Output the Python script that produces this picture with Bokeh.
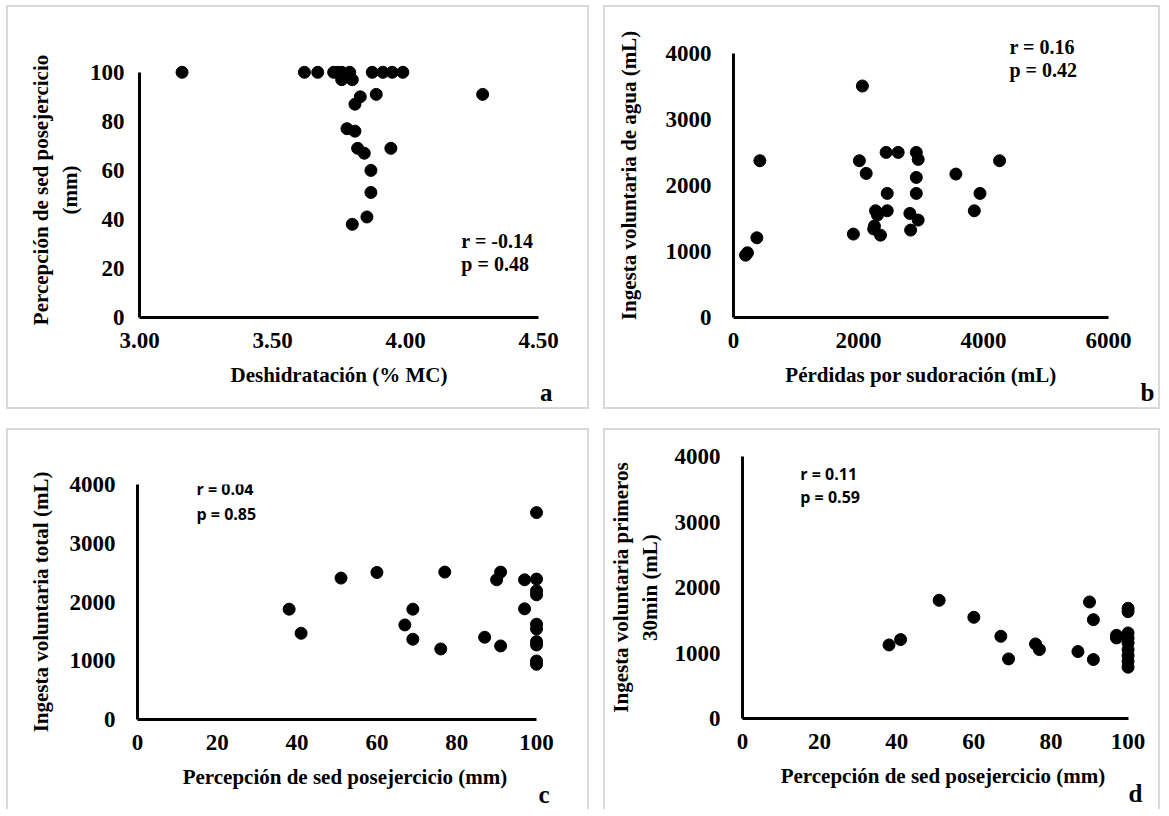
from bokeh.plotting import figure
from bokeh.models import Range1d, Label, FixedTicker, NumeralTickFormatter, Title
from bokeh.layouts import row, column
from bokeh.embed import file_html
from bokeh.resources import INLINE

# ---------------- data ----------------
# a: Deshidratación (% MC) vs Percepción de sed posejercicio (mm)
a_dehyd = [3.16, 3.62, 3.67, 3.73, 3.745, 3.76, 3.79, 3.875, 3.915, 3.95, 3.99,
           3.76, 3.80, 3.89, 4.29, 3.83, 3.81, 3.78, 3.81, 3.82, 3.845, 3.945,
           3.87, 3.87, 3.855, 3.80]
a_thirst = [100, 100, 100, 100, 100, 100, 100, 100, 100, 100, 100,
            97, 97, 91, 91, 90, 87, 77, 76, 69, 67, 69,
            60, 51, 41, 38]
# b: Pérdidas por sudoración (mL) vs Ingesta voluntaria de agua (mL)
b_sweat = [193, 223, 374, 422, 1918, 2014, 2062, 2123, 2255, 2243, 2273, 2303, 2352,
           2442, 2460, 2460, 2635, 2822, 2834, 2925, 2925, 2925, 2955, 2955,
           3558, 3853, 3944, 4257]
b_intake = [944, 980, 1207, 2374, 1263, 2374, 3505, 2182, 1384, 1340, 1616, 1551, 1247,
            2500, 1879, 1616, 2500, 1576, 1323, 2500, 2121, 1879, 2394, 1475,
            2172, 1616, 1879, 2374]
# c: Percepción de sed posejercicio (mm) vs Ingesta voluntaria total (mL)
c_thirst = [38, 41, 51, 60, 67, 69, 69, 76, 77, 87, 90, 91, 91, 97, 97,
            100, 100, 100, 100, 100, 100, 100, 100, 100, 100]
c_intake = [1878, 1468, 2407, 2503, 1610, 1878, 1366, 1201, 2509, 1400, 2378, 2509, 1252,
            2378, 1884, 3522, 2390, 2190, 2122, 1622, 1542, 1326, 1269, 996, 939]
# d: Percepción de sed posejercicio (mm) vs Ingesta voluntaria primeros 30min (mL)
d_thirst = [38, 41, 51, 60, 67, 69, 76, 77, 87, 90, 91, 91, 97, 97,
            100, 100, 100, 100, 100, 100, 100, 100, 100]
d_intake = [1123, 1205, 1804, 1545, 1255, 910, 1138, 1052, 1022, 1779, 1509, 900, 1230, 1270,
            1682, 1631, 1306, 1230, 1154, 1052, 961, 874, 783]

a_xticks = [3.0, 3.5, 4.0, 4.5]
a_yticks = [0, 20, 40, 60, 80, 100]
b_xticks = [0, 2000, 4000, 6000]
b_yticks = [0, 1000, 2000, 3000, 4000]
cd_xticks = [0, 20, 40, 60, 80, 100]
cd_yticks = [0, 1000, 2000, 3000, 4000]

SERIF = "Liberation Serif"
SANS = "Open Sans"
BORDER = "2px solid #d9d9d9"


def panel(x, y, xr, yr, xb, yb, xticks, yticks, xtitle, ytitle, w, h, mb,
          ylab_std, ytitle_std, styles, letter, letter_off, xfmt=None):
    p = figure(width=w, height=h, output_backend="svg", toolbar_location=None,
               x_range=Range1d(*xr), y_range=Range1d(*yr),
               min_border_left=mb[0], min_border_right=mb[1],
               min_border_top=mb[2], min_border_bottom=mb[3])
    p.frame_align = False
    p.styles = styles
    p.outline_line_color = None
    p.xgrid.visible = False
    p.ygrid.visible = False
    p.background_fill_color = "white"
    p.border_fill_color = "white"
    p.scatter(x, y, size=12, color="black")
    for ax, b, t in ((p.xaxis[0], xb, xticks), (p.yaxis[0], yb, yticks)):
        ax.bounds = b
        ax.ticker = FixedTicker(ticks=t)
        ax.axis_line_width = 3
        ax.axis_line_color = "black"
        ax.major_tick_line_color = None
        ax.minor_tick_line_color = None
        ax.major_tick_out = 0
        ax.major_tick_in = 0
        ax.major_label_text_font = SERIF
        ax.major_label_text_font_style = "bold"
        ax.major_label_text_font_size = "23px"
        ax.major_label_text_color = "black"
        ax.axis_label_text_font = SERIF
        ax.axis_label_text_font_style = "bold"
        ax.axis_label_text_font_size = "21px"
        ax.axis_label_text_color = "black"
    p.xaxis[0].axis_label = xtitle
    p.yaxis[0].axis_label = ytitle
    p.xaxis[0].major_label_standoff = 15
    p.xaxis[0].axis_label_standoff = 12
    p.yaxis[0].major_label_standoff = ylab_std
    p.yaxis[0].axis_label_standoff = ytitle_std
    if xfmt:
        p.xaxis[0].formatter = NumeralTickFormatter(format=xfmt)
    p.add_layout(Title(text=letter, align="right", offset=letter_off, standoff=-26,
                       text_font=SERIF, text_font_style="bold", text_font_size="25px",
                       text_color="black"), "below")
    return p


def add_text(p, x, y, txt, font, size, align="left"):
    p.add_layout(Label(x=x, y=y, text=txt, text_font=font, text_font_style="bold",
                       text_font_size=size, text_color="black", text_align=align,
                       text_baseline="middle"))


top_style = {"border": BORDER}
bot_style = {"border-left": BORDER, "border-right": BORDER, "border-top": BORDER}

pa = panel(a_dehyd, a_thirst, (3.0, 4.5), (0, 104), (3.0, 4.5), (0, 100), a_xticks, a_yticks,
           "Deshidratación (% MC)", "Percepción de sed posejercicio\n(mm)",
           583, 404, (131, 53, 55, 94), 15, 5, top_style, "a", -14, xfmt="0.00")
add_text(pa, 4.21, 31.4, "r = -0.14", SERIF, "20px")
add_text(pa, 4.21, 22.0, "p = 0.48", SERIF, "20px")

pb = panel(b_sweat, b_intake, (0, 6000), (0, 4300), (0, 6000), (0, 4000), b_xticks, b_yticks,
           "Pérdidas por sudoración (mL)", "Ingesta voluntaria de agua (mL)",
           557, 404, (128, 54, 26, 94), 22, 22, top_style, "b", -46)
add_text(pb, 4416, 4091, "r =  0.16", SERIF, "20px")
add_text(pb, 4416, 3742, "p = 0.42", SERIF, "20px")

pc = panel(c_thirst, c_intake, (0, 104), (0, 4000), (0, 100), (0, 4000), cd_xticks, cd_yticks,
           "Percepción de sed posejercicio (mm)", "Ingesta voluntaria total (mL)",
           583, 381, (129, 39, 54, 92), 22, 14, bot_style, "c", 3)
add_text(pc, 14.8, 3915, "r = 0.04", SANS, "16px")
add_text(pc, 14.8, 3506, "p = 0.85", SANS, "16px")

pd_ = panel(d_thirst, d_intake, (0, 104), (0, 4000), (0, 100), (0, 4000), cd_xticks, cd_yticks,
            "Percepción de sed posejercicio (mm)", "Ingesta voluntaria primeros\n30min (mL)",
            557, 381, (129, 19, 26, 93), 22, 10, bot_style, "d", 1)
add_text(pd_, 15.0, 3726, "r = 0.11", SANS, "16px")
add_text(pd_, 15.0, 3375, "p = 0.59", SANS, "16px")

layout = column(row(pa, pb, spacing=14), row(pc, pd_, spacing=14), spacing=19,
                margin=(5, 0, 0, 6))

open("out.html", "w").write(file_html(layout, INLINE))
